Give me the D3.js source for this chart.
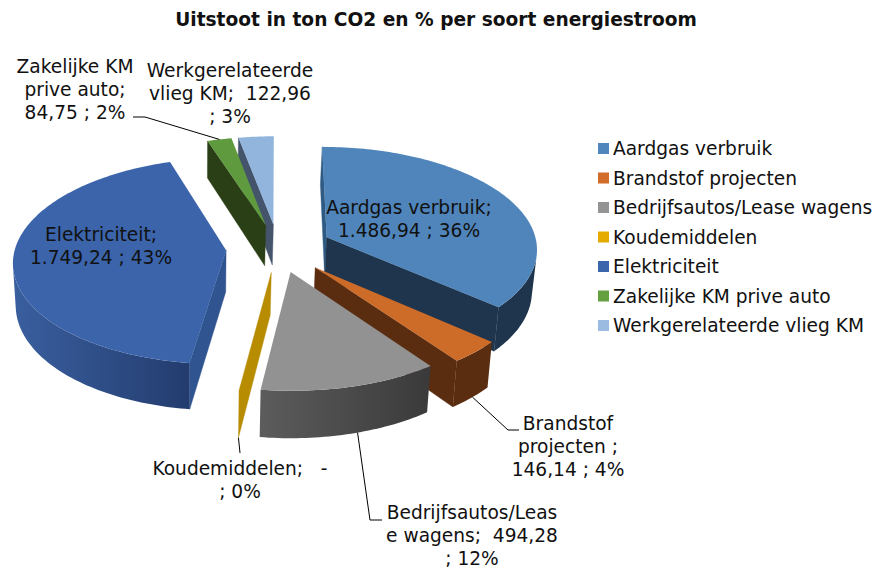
<!DOCTYPE html>
<html><head><meta charset="utf-8">
<script src="https://cdn.jsdelivr.net/npm/d3@7/dist/d3.min.js"></script>
<style>html,body{margin:0;padding:0;background:#fff}svg{display:block}
text{font-family:"DejaVu Sans",Verdana,sans-serif;fill:#111}</style></head>
<body><svg id="c" width="888" height="569"></svg>
<script>
// ---------- data ----------
const categories = ["Aardgas verbruik","Brandstof projecten","Bedrijfsautos/Lease wagens","Koudemiddelen","Elektriciteit","Zakelijke KM prive auto","Werkgerelateerde vlieg KM"];
const values = [1486.94,146.14,494.28,0,1749.24,84.75,122.96];
const title = "Uitstoot in ton CO2 en % per soort energiestroom";
const labelLines = [
  ["Aardgas verbruik;","1.486,94 ; 36%"],
  ["Brandstof","projecten ;","146,14 ; 4%"],
  ["Bedrijfsautos/Leas","e wagens;  494,28","; 12%"],
  ["Koudemiddelen;   -","; 0%"],
  ["Elektriciteit;","1.749,24 ; 43%"],
  ["Zakelijke KM","prive auto;","84,75 ; 2%"],
  ["Werkgerelateerde","vlieg KM;  122,96","; 3%"]
];
// ---------- styles / layout ----------
const topColors   = ["#4f85ba","#cd6b28","#929292","#b88c00","#3b64ab","#5f9a3e","#92b5de"];
const legendColors= ["#4f86bb","#d26c2a","#949494","#e6ab03","#3c66ac","#649f40","#9bbbe0"];
const wallStart   = ["#2f5a83","#5a2d10","#5a5a5a","#b88c00","#2f5490","#2a3f16","#44546a"];
const wallEnd     = ["#1f354d","#5a2d10","#5a5a5a","#b88c00","#2f5490","#2a3f16","#44546a"];
// outer wall gradient, left colour to right colour on screen
const wallLeft    = ["#1f354d","#5a2d10","#5c5c5c","#b88c00","#3a5f9f","#2a3f16","#44546a"];
const wallRight   = ["#1f354d","#5a2d10","#3a3a3a","#b88c00","#233c6e","#2a3f16","#44546a"];
const explosion   = [54,54,50,50,52,50,50];
const labelPos = [[409,214],[568,430],[472,519],[240,475],[101,241],[75,73],[230,77]];
const leaders = {1:[[508,430],[519,430]],2:[[370,520],[382,520]],3:[[240,453]],5:[[145,117],[133,117]]};
const leaderFrac = {1:[0.47,1],2:[0.45,1],3:[0,1],5:[0.5,0]}; // fraction along the slice rim, then 1=bottom rim, 0=top rim

const FS = 18.6, LH = 23;
const cx = 278, R = 211, DEPTH = 41.5, P = 0.00048, A = 1004, yh = -756;
const svg = d3.select("#c");
const defs = svg.append("defs");

const arcs = d3.pie().value(d=>d).sort(null).startAngle(0).endAngle(2*Math.PI)(values);
const radius = d3.scaleLinear().domain([0,1]).range([0,R]);

function proj(X,Z,low){
  const s = 1/(1+P*Z);
  let x = cx + X*s, y = yh + (A + (low?DEPTH:0))*s;
  if(low) x -= (x-200)*0.015;
  return [x,y];
}
function slicePoint(i,ang,r,low){
  const d = arcs[i], mid = (d.startAngle+d.endAngle)/2;
  const X = explosion[i]*Math.sin(mid) + radius(r)*Math.sin(ang);
  const Z = explosion[i]*Math.cos(mid) + radius(r)*Math.cos(ang);
  return proj(X,Z,low);
}
const line = d3.line();
const area2 = (q)=>{let s=0;for(let i=0;i<q.length;i++){const a=q[i],b=q[(i+1)%q.length];s+=a[0]*b[1]-b[0]*a[1];}return s;};

const order = d3.range(values.length).sort((a,b)=>{
  const m=i=>(arcs[i].startAngle+arcs[i].endAngle)/2;
  return Math.cos(m(b))-Math.cos(m(a));
});
const g = svg.append("g");
order.forEach(i=>{
  const d = arcs[i], n = Math.max(1,Math.ceil((d.endAngle-d.startAngle)/0.02));
  const angs = d3.range(n+1).map(k=>d.startAngle+(d.endAngle-d.startAngle)*k/n);
  const gs = g.append("g");
  const radial=(p1,p2,p1b,p2b,col)=>{
    const q=[p1,p2,p2b,p1b];
    if(area2(q)<-0.01) gs.append("path").attr("d",line(q)+"Z").attr("fill",col).attr("stroke",col).attr("stroke-width",0.4);
  };
  radial(slicePoint(i,d.startAngle,0),slicePoint(i,d.startAngle,1),slicePoint(i,d.startAngle,0,true),slicePoint(i,d.startAngle,1,true),wallStart[i]);
  radial(slicePoint(i,d.endAngle,1),slicePoint(i,d.endAngle,0),slicePoint(i,d.endAngle,1,true),slicePoint(i,d.endAngle,0,true),wallEnd[i]);
  if(d.endAngle>d.startAngle){
    // outer wall: the run of rim segments that face the viewer
    const vis=[];
    for(let k=0;k<n;k++){
      const q=[slicePoint(i,angs[k],1),slicePoint(i,angs[k+1],1),slicePoint(i,angs[k+1],1,true),slicePoint(i,angs[k],1,true)];
      if(area2(q)<0){ if(!vis.length) vis.push(angs[k]); vis.push(angs[k+1]); }
    }
    if(vis.length){
      const topRim=vis.map(a=>slicePoint(i,a,1)), lowRim=vis.map(a=>slicePoint(i,a,1,true)).reverse();
      const poly=topRim.concat(lowRim);
      const xs=d3.extent(poly,p=>p[0]);
      defs.append("linearGradient").attr("id","w"+i).attr("gradientUnits","userSpaceOnUse")
        .attr("x1",xs[0]).attr("x2",xs[1]).attr("y1",0).attr("y2",0)
        .selectAll("stop").data([wallLeft[i],wallRight[i]]).join("stop")
        .attr("offset",(c,j)=>j).attr("stop-color",c=>c);
      gs.append("path").attr("d",line(poly)+"Z").attr("fill",`url(#w${i})`);
    }
    const top=[slicePoint(i,0,0)].concat(angs.map(a=>slicePoint(i,a,1)));
    gs.append("path").attr("d",line(top)+"Z").attr("fill",topColors[i]);
  }
});

// leader lines
Object.keys(leaders).forEach(k=>{
  const i=+k,d=arcs[i],[f,low]=leaderFrac[i];
  const a=d.startAngle+(d.endAngle-d.startAngle)*f;
  const pts=[slicePoint(i,a,1,!!low)].concat(leaders[i]);
  svg.append("path").attr("d",line(pts)).attr("fill","none").attr("stroke","#000").attr("stroke-width",1);
});

// data labels
labelLines.forEach((ls,i)=>{
  const t=svg.append("text").attr("text-anchor","middle").attr("font-size",FS);
  ls.forEach((s,j)=>t.append("tspan").attr("x",labelPos[i][0]).attr("y",labelPos[i][1]+j*LH).style("white-space","pre").text(s));
});

// title
svg.append("text").attr("x",436).attr("y",26).attr("text-anchor","middle").attr("font-size",FS).attr("font-weight","bold").text(title);

// legend
const ly = d3.scalePoint().domain(categories).range([148.5,325.5]);
const lg = svg.selectAll(".lg").data(categories).join("g").attr("class","lg").attr("transform",d=>`translate(598,${ly(d)})`);
lg.append("rect").attr("x",0).attr("y",-5.5).attr("width",11).attr("height",11).attr("fill",(d,i)=>legendColors[i]);
lg.append("text").attr("x",15).attr("y",6.5).attr("font-size",FS).text(d=>d);
</script></body></html>
